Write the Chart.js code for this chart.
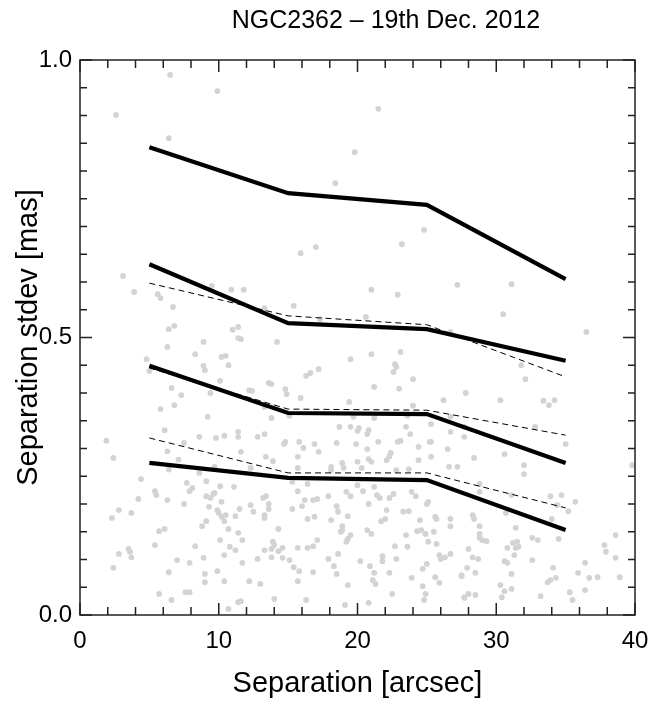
<!DOCTYPE html>
<html>
<head>
<meta charset="utf-8">
<script src="https://cdn.jsdelivr.net/npm/chart.js@4/dist/chart.umd.min.js"></script>
<style>
html,body{margin:0;padding:0;background:#fff;}
#wrap{width:668px;height:703px;position:relative;}
</style>
</head>
<body>
<div id="wrap"><canvas id="c" width="668" height="703"></canvas></div>
<script>
// ---- data ----
const chartTitle = "NGC2362 – 19th Dec. 2012";
const xTitle = "Separation [arcsec]";
const yTitle = "Separation stdev [mas]";
const binCenters = [5, 15, 25, 35];
const thick1 = [0.843, 0.760, 0.739, 0.605];
const thick2 = [0.632, 0.526, 0.515, 0.458];
const thick3 = [0.449, 0.364, 0.362, 0.274];
const thick4 = [0.274, 0.247, 0.243, 0.153];
const dashed1 = [0.598, 0.539, 0.523, 0.429];
const dashed2 = [0.445, 0.371, 0.369, 0.324];
const dashed3 = [0.319, 0.256, 0.256, 0.193];
const xTicks = [0, 10, 20, 30, 40];
const yTicks = [0.0, 0.5, 1.0];
const scatterX = [
6.5,9.9,2.6,21.5,6.4,19.8,18.4,24.8,23.2,17.0,15.9,
21.0,22.9,27.2,31.1,30.5,20.6,36.5,26.7,
3.1,3.9,5.6,5.8,6.7,9.5,10.9,11.8,13.3,15.4,6.4,6.8,11.0,11.4,11.4,11.6,17.3,
8.9,6.3,8.3,10.2,10.5,4.8,5.0,8.9,9.0,10.7,10.1,6.6,7.3,9.4,12.2,12.4,13.6,6.8,5.8,9.2,6.1,
8.6,9.8,10.4,11.4,11.4,12.8,13.3,1.9,
14.2,19.5,21.0,23.1,22.7,22.8,22.6,17.2,16.6,16.3,24.0,13.8,14.8,14.9,21.2,23.0,15.9,19.4,26.2,27.8,24.0,13.3,13.8,15.1,19.7,21.2,23.6,26.7,25.3,18.7,19.5,20.0,20.1,20.8,20.7,23.5,23.8,26.7,27.7,
31.8,32.1,30.3,33.4,33.8,34.2,32.8,27.7,
2.4,4.4,4.2,2.8,2.3,3.7,2.8,3.5,3.6,3.7,2.4,
6.3,7.5,7.1,6.4,8.6,9.7,5.4,5.5,6.3,7.7,7.9,8.1,9.1,9.1,9.4,9.6,9.7,10.1,11.1,7.5,9.3,10.2,9.9,10.0,10.2,10.4,10.5,11.2,11.5,12.3,12.5,13.2,13.4,13.3,13.3,13.6,13.6,9.1,8.8,5.7,6.1,10.7,11.4,11.7,10.1,5.4,8.3,10.8,11.2,10.4,13.3,7.0,7.9,8.9,11.7,12.8,6.4,9.9,9.0,9.0,10.4,12.2,13.0,5.7,6.6,7.6,7.9,11.4,11.6,10.7,
11.6,12.3,13.4,
14.8,14.7,15.8,16.1,16.9,17.2,18.5,19.9,20.7,21.5,22.4,22.9,23.1,24.4,25.2,25.3,26.5,13.9,15.7,18.9,20.0,20.8,21.0,22.1,22.3,24.4,25.3,26.6,27.2,18.1,18.1,19.0,20.3,22.8,23.7,15.7,15.3,16.4,15.7,17.9,19.2,19.5,20.0,20.4,21.2,21.4,21.6,22.3,22.6,23.9,24.2,15.3,16.0,16.2,16.8,17.1,18.5,18.6,19.3,20.8,22.1,23.3,23.7,25.0,25.1,25.6,25.7,26.7,26.7,16.4,16.9,18.1,21.7,22.0,24.5,14.3,18.9,18.9,18.8,20.7,21.0,24.3,24.6,24.9,25.5,23.5,19.5,19.3,19.2,17.1,13.9,14.0,13.8,14.6,14.3,15.7,16.4,16.8,22.7,23.6,25.1,25.7,18.6,13.8,14.6,15.1,17.9,20.2,21.8,21.8,22.8,25.9,26.0,26.3,26.7,18.3,20.9,25.0,24.7,15.4,15.8,16.8,18.5,21.2,21.1,21.3,22.3,23.9,25.6,25.9,27.5,15.7,19.3,24.7,22.5,24.9,24.8,14.0,16.3,20.8,19.1,27.7,
28.4,30.6,32.0,32.0,35.0,39.8,28.8,28.8,31.1,33.9,34.7,34.4,35.7,35.2,30.7,34.0,28.3,28.4,28.8,31.4,28.8,28.8,29.0,29.3,31.2,31.5,31.6,31.4,30.8,31.3,32.6,33.0,34.5,28.0,28.3,28.7,30.6,30.8,32.6,38.6,37.8,37.9,38.6,36.4,27.9,34.1,27.5,28.5,31.1,34.3,33.7,33.9,35.9,36.7,37.3,38.9,30.3,30.6,31.1,27.7,28.0,28.5,30.4,33.2,35.3,35.5,36.4
];
const scatterY = [
0.973,0.944,0.901,0.912,0.859,0.834,0.778,0.694,0.668,0.663,0.652,
0.586,0.577,0.595,0.596,0.542,0.537,0.510,0.510,
0.611,0.582,0.578,0.571,0.555,0.593,0.586,0.586,0.553,0.557,0.515,0.521,0.514,0.519,0.499,0.497,0.533,
0.492,0.483,0.470,0.465,0.467,0.461,0.440,0.449,0.441,0.450,0.422,0.409,0.396,0.400,0.405,0.404,0.418,0.378,0.371,0.357,0.333,
0.321,0.319,0.323,0.330,0.321,0.321,0.326,0.314,
0.492,0.461,0.470,0.474,0.452,0.447,0.438,0.443,0.436,0.431,0.425,0.416,0.407,0.398,0.411,0.408,0.391,0.384,0.387,0.400,0.377,0.375,0.355,0.359,0.357,0.355,0.359,0.357,0.344,0.339,0.339,0.332,0.337,0.333,0.326,0.339,0.326,0.330,0.339,
0.450,0.425,0.387,0.386,0.378,0.387,0.339,0.321,
0.283,0.245,0.209,0.189,0.175,0.184,0.110,0.119,0.114,0.104,0.085,
0.295,0.310,0.280,0.262,0.256,0.267,0.223,0.216,0.207,0.238,0.223,0.229,0.241,0.214,0.211,0.218,0.220,0.232,0.231,0.200,0.195,0.204,0.189,0.184,0.177,0.169,0.180,0.178,0.191,0.198,0.186,0.211,0.214,0.175,0.180,0.200,0.191,0.169,0.160,0.151,0.155,0.155,0.148,0.135,0.135,0.126,0.124,0.123,0.117,0.108,0.117,0.099,0.094,0.103,0.094,0.101,0.077,0.079,0.074,0.059,0.061,0.061,0.056,0.038,0.027,0.041,0.041,0.023,0.025,0.011,
0.294,0.265,0.285,
0.312,0.308,0.312,0.301,0.308,0.294,0.310,0.308,0.299,0.312,0.292,0.312,0.314,0.303,0.312,0.312,0.299,0.277,0.285,0.274,0.276,0.281,0.276,0.279,0.286,0.279,0.285,0.267,0.267,0.267,0.261,0.265,0.265,0.261,0.263,0.265,0.240,0.236,0.223,0.214,0.222,0.214,0.234,0.223,0.231,0.216,0.211,0.211,0.218,0.222,0.214,0.191,0.196,0.207,0.207,0.209,0.196,0.186,0.178,0.200,0.189,0.186,0.187,0.200,0.204,0.177,0.173,0.173,0.160,0.173,0.177,0.171,0.169,0.173,0.171,0.155,0.160,0.153,0.150,0.153,0.146,0.151,0.153,0.146,0.150,0.144,0.144,0.137,0.132,0.135,0.132,0.126,0.119,0.121,0.115,0.121,0.121,0.124,0.124,0.123,0.132,0.128,0.110,0.104,0.103,0.099,0.101,0.097,0.106,0.097,0.101,0.108,0.101,0.104,0.110,0.088,0.088,0.092,0.083,0.086,0.079,0.077,0.074,0.076,0.063,0.056,0.076,0.067,0.068,0.058,0.072,0.061,0.054,0.052,0.038,0.038,0.027,0.029,0.027,0.022,0.018,0.032,
0.283,0.290,0.270,0.254,0.308,0.270,0.236,0.222,0.216,0.214,0.216,0.198,0.204,0.187,0.184,0.173,0.180,0.173,0.160,0.157,0.146,0.139,0.135,0.133,0.130,0.132,0.123,0.121,0.121,0.108,0.139,0.135,0.137,0.119,0.104,0.101,0.097,0.094,0.099,0.144,0.126,0.114,0.103,0.094,0.085,0.085,0.070,0.076,0.074,0.067,0.059,0.063,0.076,0.067,0.068,0.068,0.054,0.043,0.047,0.031,0.038,0.036,0.032,0.034,0.041,0.027,0.045
];

// ---- build ----
const FONT = "'Liberation Sans', Arial, Helvetica, sans-serif";
const pts = scatterX.map((x, i) => ({x: x, y: scatterY[i]}));
const toXY = arr => binCenters.map((x, i) => ({x: x, y: arr[i]}));
function thick(arr){ return {type:'line', data: toXY(arr), borderColor:'#000', borderWidth:4.2, pointRadius:0, fill:false, tension:0, borderJoinStyle:'miter', order:1}; }
function dashed(arr){ return {type:'line', data: toXY(arr), borderColor:'#000', borderWidth:1, borderDash:[6,4], pointRadius:0, fill:false, tension:0, order:2}; }

const framePlugin = {
  id: 'frame',
  afterDatasetsDraw(chart) {
    const {ctx, chartArea: a, scales: {x, y}} = chart;
    ctx.save();
    ctx.strokeStyle = '#222';
    ctx.lineWidth = 1.5;
    ctx.strokeRect(a.left, a.top, a.right - a.left, a.bottom - a.top);
    ctx.beginPath();
    for (let v = 0; v <= 40.001; v += 2) {
      const px = x.getPixelForValue(v);
      const L = (Math.round(v) % 10 === 0) ? 12 : 8;
      ctx.moveTo(px, a.bottom); ctx.lineTo(px, a.bottom - L);
      ctx.moveTo(px, a.top); ctx.lineTo(px, a.top + L);
    }
    for (let k = 0; k <= 20; k++) {
      const v = k * 0.05;
      const py = y.getPixelForValue(v);
      const L = (k % 10 === 0) ? 12 : 7;
      ctx.moveTo(a.left, py); ctx.lineTo(a.left + L, py);
      ctx.moveTo(a.right, py); ctx.lineTo(a.right - L, py);
    }
    ctx.stroke();
    ctx.restore();
  },
  afterDraw(chart) {
    const ctx = chart.ctx;
    ctx.save();
    ctx.fillStyle = '#000';
    ctx.font = "25px " + FONT;
    ctx.textAlign = 'center';
    ctx.textBaseline = 'middle';
    ctx.fillText(chartTitle, 386, 21);
    ctx.restore();
  }
};

new Chart(document.getElementById('c'), {
  type: 'scatter',
  data: {
    datasets: [
      thick(thick1), thick(thick2), thick(thick3), thick(thick4),
      dashed(dashed1), dashed(dashed2), dashed(dashed3),
      {type:'scatter', data: pts, backgroundColor:'#d3d3d3', borderWidth:0, pointRadius:2.9, order:5, clip:false}
    ]
  },
  options: {
    responsive: false,
    animation: false,
    devicePixelRatio: 1,
    layout: {padding: {top: 60, right: 33, left: 0, bottom: 0}},
    plugins: {legend: {display: false}, tooltip: {enabled: false}, title: {display: false}},
    scales: {
      x: {
        type: 'linear', min: 0, max: 40,
        afterFit(s){ s.height = 88; },
        afterBuildTicks(s){ s.ticks = xTicks.map(v => ({value: v})); },
        grid: {display: false, drawTicks: false},
        border: {display: false},
        ticks: {color:'#000', font:{family: FONT, size: 24}, padding: 12, maxRotation: 0, callback: v => String(v)},
        title: {display: true, text: xTitle, color:'#000', font:{family: FONT, size: 29}, padding:{top:0, bottom:2}}
      },
      y: {
        type: 'linear', min: 0, max: 1,
        afterFit(s){ s.width = 80; },
        afterBuildTicks(s){ s.ticks = yTicks.map(v => ({value: v})); },
        grid: {display: false, drawTicks: false},
        border: {display: false},
        ticks: {color:'#000', font:{family: FONT, size: 24}, padding: 8, callback: v => Number(v).toFixed(1)},
        title: {display: true, text: yTitle, color:'#000', font:{family: FONT, size: 29}, padding:{top:12, bottom:0}}
      }
    }
  },
  plugins: [framePlugin]
});
</script>
</body>
</html>
